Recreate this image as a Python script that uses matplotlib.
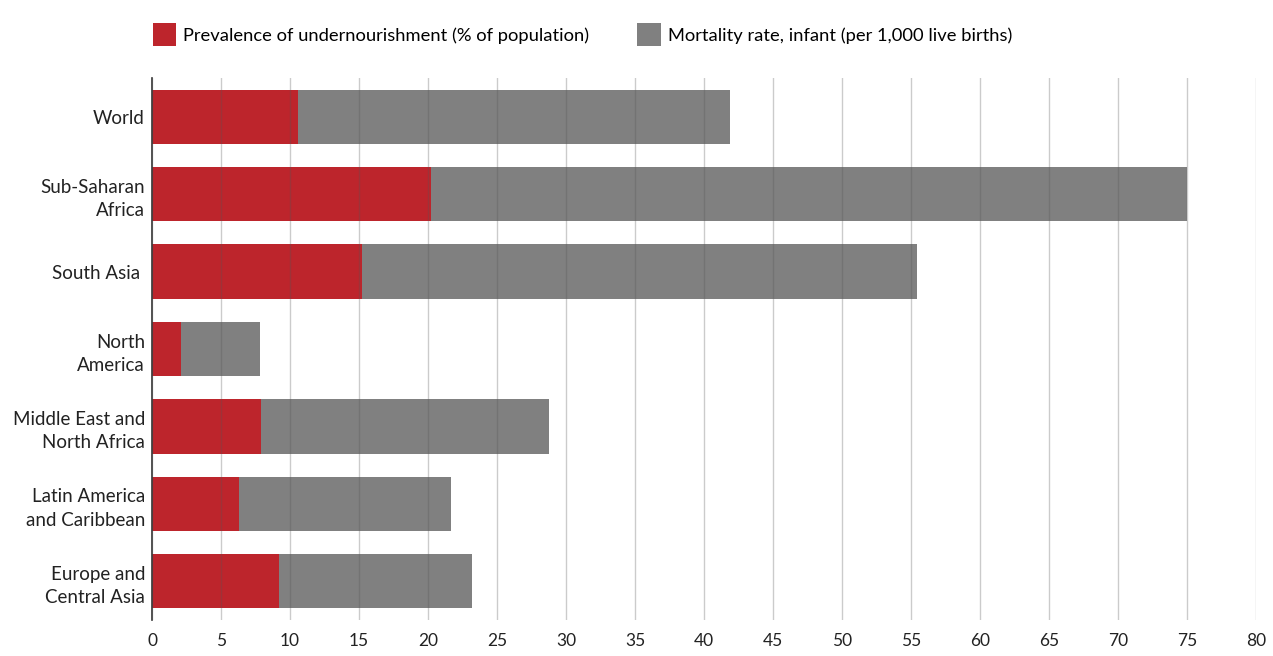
import matplotlib.pyplot as plt
import numpy as np

regions = ['World', 'Sub-Saharan\nAfrica', 'South Asia ', 'North\nAmerica',
           'Middle East and\nNorth Africa', 'Latin America\nand Caribbean',
           'Europe and\nCentral Asia']
undernourishment = [10.6, 20.2, 15.2, 2.1, 7.9, 6.3, 9.2]
infant_mortality = [31.3, 54.8, 40.2, 5.7, 20.9, 15.4, 14.0]

red = '#bd252c'
grey = '#808080'

plt.rcParams['font.family'] = ['Lato', 'DejaVu Sans']

fig = plt.figure(figsize=(12.73, 6.56), dpi=100)
ax = fig.add_axes([152 / 1273, 1 - 620 / 656, (1256 - 152) / 1273, (620 - 78) / 656])

y = np.arange(len(regions))
ax.barh(y, undernourishment, height=0.7, color=red, zorder=1,
        label='Prevalence of undernourishment (% of population)')
ax.barh(y, infant_mortality, left=undernourishment, height=0.7, color=grey, zorder=1,
        label='Mortality rate, infant (per 1,000 live births)')

ax.set_xlim(0, 80)
ax.set_ylim(len(regions) - 0.5, -0.5)
ax.set_xticks(np.arange(0, 81, 5))
ax.set_yticks(y)
ax.set_yticklabels(regions, fontsize=13.5, color='#222222', multialignment='right',
                   linespacing=1.45)
ax.tick_params(axis='y', length=0, pad=5)
ax.tick_params(axis='x', length=0, labelsize=12.5, colors='#222222', pad=9)

ax.grid(axis='x', color='#555555', alpha=0.3, linewidth=1, zorder=3)
ax.set_axisbelow(False)
for side in ['top', 'right', 'bottom']:
    ax.spines[side].set_visible(False)
ax.spines['left'].set_color('#333333')
ax.spines['left'].set_linewidth(1.2)

fig.legend(loc='upper left', bbox_to_anchor=(136 / 1273, 1 - 7 / 656), ncol=2,
           frameon=False, fontsize=13.2, handlelength=1.3, handleheight=1.5,
           handletextpad=0.38, columnspacing=2.6)

plt.savefig('out.png', dpi=100)
